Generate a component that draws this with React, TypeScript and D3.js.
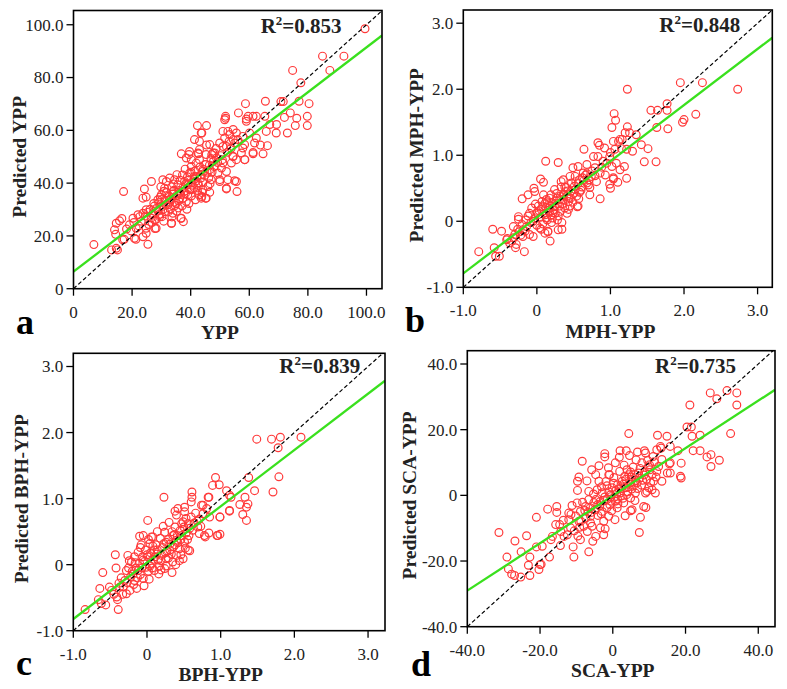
import React from 'react';
import * as d3 from 'd3';

type Pt = [number, number];

const yppPoints: Pt[] = [
  [6.95, 16.7], [99.5, 98.5], [85, 88.1], [92.3, 88.1], [87.5, 82.7], [74.8, 82.7], [77.6, 78], [65.5, 71],
  [58.7, 70.1], [71.6, 70.9], [70.8, 70.9], [77, 71], [80.4, 70.1], [79.8, 65.3], [79.8, 61.8], [75.7, 61.8],
  [76.2, 64.6], [74, 66.6], [72, 64.9], [73, 59], [69.2, 59], [66.2, 54.2], [64.7, 51.1], [61.3, 51.1],
  [58.5, 48.9], [56.3, 66.6], [51.9, 65.3], [51.9, 64.6], [42.3, 61.8], [45.4, 61.8], [43.8, 59], [36.8, 51.1],
  [42.7, 51.1], [45.4, 54.4], [55.6, 40.6], [55.8, 36.8], [52.2, 37.8], [52.7, 41.3], [49.9, 40.6], [17.1, 36.8],
  [26.6, 40.6], [24.2, 37.8], [23.7, 34.3], [33.5, 24.8], [36.6, 26.7], [37.5, 25.4], [15.7, 25.7], [16.5, 26.6],
  [14.6, 24.8], [14.4, 20.6], [17.3, 18.7], [13, 14.7], [15, 14.7], [21.3, 18.7], [25.4, 16.8], [24.8, 21],
  [27.8, 22.8], [20.6, 25.1], [22.6, 27.3], [46.5, 36.5], [45.1, 34.3], [43.8, 34.9], [63.8, 54.4], [62.4, 57.1],
  [69.3, 62.2], [67, 62.2], [61.3, 65.3], [59, 64.3], [54.5, 60.3], [54.5, 56.5], [48.2, 51.4], [47.2, 50.8],
  [40.2, 48.9], [39.4, 50.8], [54.5, 50.1], [51, 53.9],
  [24.8, 34.7], [14, 22.3], [20.3, 26.7], [22, 28], [23.7, 28.6], [24.8, 29.9], [19.1, 24.2], [21.4, 22.9],
  [24.8, 22.9], [23.7, 19.7], [20.8, 19.1], [16.8, 18.5], [14.6, 15.3], [28.2, 22.9], [27.7, 26.1], [29.4, 27.3],
  [30.5, 29.9], [32.2, 31.8], [33.4, 24.8], [33.9, 28.6], [36.8, 26.7], [28.8, 33.7], [30, 35.6], [31.1, 38.1],
  [31.7, 40.6], [30.5, 41.3], [32.8, 41.9], [34.5, 41.3], [35.6, 39.4], [33.9, 36.8], [36.2, 36.2], [37.3, 34.3],
  [39, 35.6], [32.8, 33.7], [35.1, 32.4], [38.5, 33], [40.2, 37.5], [37.9, 40.6], [39.6, 43.8], [41.3, 42.5],
  [42.5, 40], [44.2, 37.5], [45.3, 34.3], [43.6, 34.3], [45.9, 38.7], [47, 41.3], [49.9, 41.3], [52.2, 38.1],
  [55, 40.9], [49.3, 43.8], [46.5, 45.1], [44.8, 47], [43, 48.9], [41.9, 47.6], [40.2, 46.3], [38.5, 49.5],
  [39.6, 52], [42.5, 51.4], [43, 52.7], [45.3, 50.8], [47.6, 51.4], [48.8, 49.5], [51, 47.6], [50.5, 45.7],
  [52.2, 44.4], [53.9, 47.6], [55.6, 48.9], [54.4, 50.1], [57.3, 51.4], [58.4, 48.9], [61.3, 51.6], [57.8, 53.3],
  [55, 55.2], [52.2, 53.9], [49.9, 55.2], [46.5, 54.6], [43, 55.8], [51.6, 57.1], [53.3, 58.4], [52.7, 59.6],
  [51, 59.6], [55.6, 59], [56.1, 56.5], [57.8, 57.7], [60.1, 59], [59, 63.4], [59.6, 65.3], [62.4, 65.3],
  [65.3, 65.3], [65.8, 59.6], [61.8, 55.2], [58.4, 54.6], [51.6, 64], [43.6, 59], [41.3, 56.5],
  [28.3, 30.4], [29.1, 32.6], [30.4, 31.2], [31.2, 33.5], [32.5, 35.1], [33.2, 34.0], [34.4, 32.8], [35.3, 35.4],
  [36.1, 37.2], [37.4, 38.3], [38.2, 36.1], [39.1, 39.4], [40.3, 40.2], [41.2, 41.5], [42.1, 42.4], [43.3, 43.1],
  [44.2, 44.5], [41.1, 38.3], [39.3, 41.2], [36.2, 34.1], [34.3, 37.3], [31.1, 29.2], [29.2, 28.1], [27.1, 28.4],
  [26.2, 30.1], [28.1, 26.2], [30.2, 27.3], [33.1, 30.2], [35.2, 29.3], [37.1, 31.4], [40.2, 35.1], [42.3, 37.2],
  [44.1, 40.3], [46.2, 42.1], [47.3, 44.2], [48.1, 46.3], [45.2, 47.1], [44.3, 45.2], [38.1, 45.3], [37.2, 43.1],
  [35.3, 43.2], [40.1, 44.1], [33.5, 38.6], [31.8, 36.4], [29.6, 34.7], [27.4, 32.3], [26.5, 26.8], [24.6, 27.5],
  [25.7, 24.3], [30.8, 25.6], [38.7, 30.1], [41.6, 33.7], [43.9, 36.4], [46.6, 39.8], [49.2, 47.8], [50.3, 50.4],
  [52.6, 51.7], [53.8, 53.2], [48.7, 53.1], [46.9, 49.3],
  [27.6, 31.3], [28.9, 29.4], [30.1, 33.8], [31.5, 31.9], [32.3, 29.1], [32.9, 32.7], [33.8, 35.9], [34.7, 31.5],
  [35.9, 33.3], [36.6, 35.7], [37.8, 36.9], [38.4, 39.9], [39.7, 37.6], [40.6, 39.2], [41.8, 40.8], [42.7, 39.1],
  [43.5, 41.9], [44.8, 42.9], [45.6, 44.1], [46.4, 46.8], [30.9, 36.9], [29.8, 38.6], [34.1, 39.7], [36.4, 41.1],
  [38.9, 42.4], [41.4, 44.6], [43.2, 46.1], [33.6, 27.2], [35.8, 30.6], [39.4, 32.3], [42.8, 35.6], [26.8, 25.1],
  [25.3, 28.9], [23.1, 25.6], [22.3, 23.8], [19.6, 21.9], [18.1, 22.6], [47.8, 48.3], [50.8, 48.9], [53.1, 55.8],
];

const mphPoints: Pt[] = [
  [-0.79, -0.46], [-0.6, -0.12], [-0.48, -0.15], [-0.58, -0.4], [-0.56, -0.53], [-0.51, -0.53], [-0.4, -0.26],
  [-0.29, -0.4], [-0.17, -0.46], [-0.2, 0.34], [-0.25, 0.07], [-0.25, 0.03], [-0.04, 0.5], [0.05, 0.64],
  [0.09, 0.59], [0.12, 0.91], [0.29, 0.89], [0.15, -0.16], [0.34, -0.12], [0.55, 0.22], [0.64, 1.09],
  [0.86, 0.34], [0.85, 1.15], [0.77, 0.98], [0.99, 0.56], [1.0, 0.5], [1.04, 0.64], [1.1, 0.59], [1.05, 1.63],
  [1.07, 1.53], [1.02, 1.42], [1.23, 2.0], [1.23, 1.43], [1.22, 0.65], [1.19, 0.83], [1.3, 1.06], [1.46, 0.9],
  [1.62, 0.9], [1.51, 1.1], [1.42, 1.16], [1.55, 1.68], [1.63, 1.42], [1.64, 1.68], [1.77, 1.78], [1.78, 1.4],
  [1.77, 1.68], [1.95, 2.1], [2.25, 2.1], [2.16, 1.62], [1.98, 1.5], [2.0, 1.54], [2.73, 2.0], [1.26, 1.34],
  [1.35, 1.31], [1.16, 1.24], [1.11, 1.21],
  [-0.41, -0.28], [-0.32, -0.25], [-0.28, -0.35], [-0.14, -0.08], [-0.19, -0.13], [-0.1, -0.2], [-0.05, 0],
  [0, 0.13], [0.02, 0.23], [-0.07, 0.2], [0.06, 0.18], [-0.03, 0.45], [-0.12, 0.4], [0.09, 0.4], [0.13, 0.33],
  [0.18, 0.23], [0.22, 0.13], [0.13, 0.05], [0.2, -0.02], [0.04, -0.1], [0.11, -0.18], [0.29, -0.13],
  [0.34, -0.02], [0.15, -0.15], [0.29, 0.08], [0.31, 0.23], [0.27, 0.35], [0.24, 0.48], [0.36, 0.4], [0.43, 0.3],
  [0.4, 0.51], [0.47, 0.58], [0.52, 0.48], [0.54, 0.38], [0.56, 0.23], [0.45, 0.23], [0.38, 0.2], [0.58, 0.63],
  [0.63, 0.73], [0.56, 0.83], [0.45, 0.68], [0.36, 0.63], [0.68, 0.58], [0.72, 0.51], [0.74, 0.68], [0.79, 0.81],
  [0.86, 0.73], [0.72, 0.4], [0.83, 0.98], [0.9, 0.91], [0.92, 1.11], [0.99, 0.98], [1.06, 1.09], [1.04, 1.21],
  [1.13, 1.24], [1.02, 0.83], [1.08, 0.88], [1.13, 0.78], [1.04, 0.66], [0.83, 1.19], [1.2, 1.34], [1.22, 1.09],
  [0.68, 0.86], [0.49, 0.81], [-0.32, -0.08], [-0.19, -0.23], [-0.37, -0.33], [-0.05, -0.23], [0.18, -0.3],
  [0.05, 0.06], [0.1, 0.12], [0.16, 0.2], [0.21, 0.28], [0.26, 0.31], [0.31, 0.33], [0.35, 0.27], [0.41, 0.38],
  [0.46, 0.45], [0.51, 0.53], [0.56, 0.57], [0.61, 0.52], [0.66, 0.7], [0.71, 0.63], [0.11, 0.27], [0.17, 0.35],
  [0.23, 0.17], [0.32, 0.15], [0.39, 0.45], [0.44, 0.36], [0.49, 0.29], [0.27, 0.42], [0.02, 0.1], [-0.08, -0.02],
  [-0.12, 0.08], [-0.16, -0.15], [-0.22, -0.21], [-0.26, -0.12], [0.08, -0.04], [0.14, 0.02], [0.19, 0.09],
  [0.58, 0.44], [0.64, 0.62], [0.79, 0.69], [0.52, 0.68], [0.33, 0.52], [0.07, 0.3], [-0.02, 0.26], [0.28, 0.02],
  [0.41, 0.12],
  [-0.03, 0.04], [0.03, 0.16], [0.08, 0.22], [0.12, 0.1], [0.17, 0.14], [0.21, 0.05], [0.24, 0.22], [0.28, 0.27],
  [0.32, 0.38], [0.36, 0.33], [0.38, 0.52], [0.42, 0.46], [0.46, 0.35], [0.5, 0.42], [0.53, 0.6], [0.6, 0.47],
  [0.62, 0.66], [0.68, 0.72], [0.7, 0.55], [0.75, 0.76], [-0.1, 0.12], [-0.15, 0.02], [-0.2, -0.05], [-0.24, -0.16],
  [-0.3, -0.2], [-0.34, -0.3], [0.0, -0.06], [0.06, -0.12], [0.25, 0.12], [0.14, 0.28], [0.19, 0.4], [0.33, 0.6],
  [0.43, 0.18], [0.57, 0.34], [0.81, 0.6], [0.88, 0.82], [0.95, 0.88], [1.0, 1.04], [0.93, 0.7], [1.15, 1.1],
];

const bphPoints: Pt[] = [
  [-0.84, -0.68], [-0.64, -0.36], [-0.6, -0.12], [-0.66, -0.53], [-0.62, -0.59], [-0.56, -0.61], [-0.43, 0.15],
  [-0.42, -0.05], [-0.39, -0.68], [-0.4, -0.53], [-0.51, -0.34], [-0.1, 0.43], [-0.05, 0.44], [0.01, 0.67],
  [0.06, 0.42], [0.23, 1.02], [0.34, -0.12], [0.61, 1.02], [0.58, 0.21], [0.61, 1.1], [0.51, 0.87], [0.38, 0.81],
  [0.84, 1.02], [0.74, 0.9], [0.93, 1.32], [0.98, 1.21], [1.08, 1.12], [1.14, 1.02], [1.12, 0.81], [0.95, 0.44],
  [0.99, 0.46], [0.84, 0.48], [0.79, 0.42], [0.99, 0.72], [1.26, 0.91], [1.33, 1.02], [1.37, 0.92], [1.35, 0.87],
  [1.35, 0.67], [1.46, 1.12], [1.38, 1.32], [1.49, 1.9], [1.71, 1.1], [1.69, 1.9], [1.81, 1.93], [1.78, 1.77],
  [1.79, 1.33], [2.09, 1.93], [1.3, 0.76],
  [-0.48, -0.39], [-0.41, -0.49], [-0.37, -0.34], [-0.3, -0.24], [-0.28, -0.09], [-0.26, 0.14], [-0.21, 0.04],
  [-0.23, -0.39], [-0.14, -0.36], [-0.17, -0.24], [-0.19, -0.14], [-0.12, -0.09], [-0.05, -0.21], [-0.1, 0.02],
  [-0.12, 0.19], [-0.05, 0.07], [0.01, 0.12], [0.06, 0.02], [-0.01, -0.04], [0.1, -0.09], [0.15, 0.07],
  [0.2, 0.14], [0.1, 0.22], [0.04, 0.32], [0.08, 0.42], [0.24, 0.49], [0.26, 0.34], [0.31, 0.22], [0.24, -0.06],
  [0.26, 0.09], [0.35, 0.04], [0.4, 0.14], [0.44, 0.24], [0.4, 0.37], [0.35, 0.44], [0.47, 0.44], [0.51, 0.34],
  [0.56, 0.22], [0.49, 0.09], [0.38, 0.57], [0.4, 0.75], [0.42, 0.85], [0.51, 0.8], [0.49, 0.65], [0.56, 0.62],
  [0.6, 0.72], [0.6, 0.95], [0.69, 0.57], [0.71, 0.47], [0.76, 0.77], [0.81, 0.85], [0.83, 1.02], [0.85, 0.72],
  [0.78, 0.44], [0.96, 0.44], [0.99, 0.72], [0.89, 1.2], [1.12, 0.82], [1.12, 1.05],
  [-0.22, -0.18], [-0.18, -0.3], [-0.15, -0.05], [-0.09, -0.15], [-0.06, 0.12], [0.02, -0.1], [0.05, 0.18],
  [0.09, 0.08], [0.13, 0.16], [0.17, -0.02], [0.21, 0.26], [0.27, 0.2], [0.31, 0.31], [0.36, 0.27], [0.42, 0.33],
  [0.45, 0.52], [0.53, 0.48], [0.58, 0.55], [0.64, 0.63], [0.66, 0.78], [0.71, 0.69], [0.18, 0.4], [0.12, 0.3],
  [-0.02, 0.22], [-0.08, 0.3], [-0.25, -0.05], [-0.32, -0.33], [-0.28, -0.44], [-0.35, -0.2], [0.03, -0.22],
  [0.16, -0.14], [0.29, 0.1], [0.44, 0.06], [0.37, 0.45], [0.55, 0.38], [0.47, 0.62], [0.22, 0.58], [-0.17, 0.12],
  [-0.04, -0.32], [0.07, -0.05],
  [-0.2, -0.1], [-0.16, 0.03], [-0.13, -0.2], [-0.07, -0.05], [-0.03, 0.05], [0.0, 0.15], [0.04, -0.02],
  [0.08, 0.28], [0.11, 0.12], [0.14, 0.22], [0.19, 0.06], [0.23, 0.32], [0.25, 0.18], [0.29, 0.38], [0.33, 0.16],
  [0.34, 0.5], [0.38, 0.3], [0.41, 0.44], [0.46, 0.38], [0.5, 0.57], [0.53, 0.7], [0.57, 0.44], [0.62, 0.52],
  [0.68, 0.66], [0.73, 0.58], [0.76, 0.9], [-0.27, -0.27], [-0.33, -0.45], [-0.38, -0.28], [-0.45, -0.45],
  [-0.24, 0.06], [-0.09, 0.26], [0.02, 0.38], [0.14, 0.5], [0.3, 0.64], [0.19, -0.08], [0.26, -0.02], [0.39, 0.0],
  [0.46, 0.15], [0.52, 0.25],
];

const scaPoints: Pt[] = [
  [-31.3, -11.3], [-29.1, -18.8], [-28.7, -22.4], [-27.8, -24], [-27, -24.4], [-26.9, -13.9], [-25.3, -24.9],
  [-25.2, -17.2], [-23.7, -12.3], [-23.2, -21.3], [-22.8, -24.4], [-22.8, -18.8], [-21, -6.7], [-20.3, -22.6],
  [-19.7, -21], [-19.4, -15.5], [-21, -15.7], [-17.9, -4.2], [-17.4, -18.8], [-17, -13.5], [-15.4, -3.4],
  [-15.4, -5.2], [-14.6, -8.9], [-14.4, -15.3], [-12.1, -5.4], [-10.9, -15.7], [-10.7, -18.8], [-8.4, 10.4],
  [-9.3, 5.6], [-9.7, 4.3], [-9.7, 1.5], [-8.9, -13.5], [-6.6, -17.2], [-5.5, -14], [-3.8, 9.0], [-2.2, 12.7],
  [-2.2, 11.7], [-2.5, -12], [-0.9, 6.3], [2, 13.6], [3.7, 13.6], [4.4, 18.8], [4.9, -4.7], [7.3, -11.3],
  [7.6, -6.7], [8.7, 13.6], [9.4, 1.2], [9.1, -3.7], [11.7, 0.7], [12.3, 18.3], [14.9, 18], [13.3, 14.4],
  [15, 6.8], [15.6, 9.6], [17.9, 13.6], [18.8, 9.8], [18.8, 5.3], [20.4, 20.8], [21.2, 27.5], [21.6, 20.8],
  [21.8, 18], [22.1, 13.6], [24, 18.3], [24, 13.6], [25.9, 11.7], [26.8, 31.2], [27, 12.4], [27, 8.8],
  [28.6, 29.4], [29.3, 10.7], [31.4, 31.9], [32.4, 18.8], [34.1, 31.2], [34.1, 27.5],
  [-20, -21.1], [-16.6, -12.5], [-14.3, -11], [-13.4, -12.5], [-15.7, -8.9], [-12.1, -7.4], [-11.6, -9.9],
  [-12.5, -12], [-9.8, -2.3], [-8.9, -4.9], [-9.3, -7.9], [-7.5, -3.4], [-8, -9.4], [-7, -11], [-6.1, -6.4],
  [-5.7, -9.4], [-4.7, -12.5], [-6.6, 1.2], [-6.6, -1.3], [-4.7, -1.3], [-4.3, 1.7], [-3.8, 4.3], [-4.7, 6.3],
  [-2.9, -4.9], [-2.5, -7.9], [-3.4, -9.9], [-1.6, -3.8], [-1.1, -6.4], [-0.6, 0.2], [-0.2, 2.3], [-1.1, 6.3],
  [0.7, -1.8], [1.2, -3.8], [2.1, 0.7], [2.6, 4.3], [0.7, 9.9], [3.9, 7.8], [4.4, 6.3], [4.9, 3.8], [3.5, 2.3],
  [3, -2.3], [4.9, -0.8], [6.2, 0.7], [6.7, 3.8], [7.1, 6.8], [5.3, -4.4], [8.5, -3.4], [9, 0.7], [9.9, 2.3],
  [10.8, 1.7], [11.2, 4.3], [10.8, 6.3], [12.1, 7.3], [8, 9.9], [9, 12.9], [12.1, 13.9], [13.1, 14.9],
  [13.5, 10.9], [13.5, 4.3], [15.8, 9.9], [15.8, 6.8], [15.8, 14.9], [18.6, 5.8],
  [-1.5, -1.2], [0.8, 1.4], [2.4, 2.6], [3.6, 4.9], [5.1, 5.6], [6.3, 4.5], [7.5, 8.2], [8.8, 7.1], [10.1, 9.3],
  [11.4, 10.2], [1.3, 3.2], [-0.8, -2.9], [-2.4, -1.6], [-3.6, -3.2], [-4.9, -4.4], [-6.2, -3.8], [-7.4, -6.9],
  [-8.3, -2.1], [-5.3, 0.4], [-3.1, 2.6], [-1.9, 4.2], [0.3, 5.4], [1.9, 7.3], [3.1, 9.2], [5.6, 8.6],
  [6.4, 10.8], [4.1, 1.1], [2.8, -0.9], [1.4, -2.6], [-0.3, -4.7], [6.1, -1.6], [7.9, 3.1], [10.4, 3.8],
  [12.6, 8.8], [-10.6, -10.8], [-9.6, -12.4], [-11.2, -3.1], [-13.6, -7.6], [-4.1, -6.1], [-2.1, -10.2],
  [0.6, -7.4], [3.4, -6.2], [1.8, 11.6], [4.6, 12.1], [6.8, 13.2], [9.6, 10.6], [11.1, 11.8], [-7.1, 4.4],
  [-5.8, 7.8], [-1.2, 8.4],
  [-0.5, -0.4], [0.4, -0.6], [1.1, 0.6], [1.7, 1.9], [2.3, -0.2], [2.9, 3.4], [3.8, 0.2], [4.3, 2.6], [5.2, 1.9],
  [5.8, 3.1], [6.8, 2.1], [7.3, 5.2], [8.2, 4.6], [8.6, 6.2], [9.3, 4.9], [10.2, 7.8], [-1.1, 1.1], [-2.2, -0.5],
  [-2.9, 0.8], [-3.5, -1.9], [-4.1, -2.8], [-5.2, -2.2], [-5.9, -5.2], [-6.8, -5.1], [-7.7, -4.6], [-8.8, -7.9],
  [-10.2, -6.3], [-11.5, -5.8], [-1.6, 2.9], [0.2, 3.7], [-0.4, -1.8], [1.3, -1.1], [3.3, 5.8], [4.9, 7.1],
  [6, 6.3], [9.8, 8.7], [11.9, 5.6], [-3.2, -5.6], [-6.1, -8.4], [-9.1, -9.7],
];

const panelLetters = ['a', 'b', 'c', 'd'];
const xTitles = ['YPP', 'MPH-YPP', 'BPH-YPP', 'SCA-YPP'];
const yTitles = ['Predicted YPP', 'Predicted MPH-YPP', 'Predicted BPH-YPP', 'Predicted SCA-YPP'];
const r2Values = ['0.853', '0.848', '0.839', '0.735'];
const fitIntercepts = [6.45, 0.06, 0.03, -0.1];
const fitSlopes = [0.85, 0.85, 0.853, 0.723];
const yppTicks = [0, 20, 40, 60, 80, 100];
const diffTicks = [-1, 0, 1, 2, 3];
const scaTicks = [-40, -20, 0, 20, 40];

const pointSets = [yppPoints, mphPoints, bphPoints, scaPoints];
const tickSets = [yppTicks, diffTicks, diffTicks, scaTicks];

// frame boxes and axis extents per panel
const layout = [
  { left: 73.5, right: 382, top: 10.5, bottom: 288.7, xDom: [0, 105.3], yDom: [0, 105.4], r2x: 260.7, r2y: 33.3, letterX: 16, letterY: 334, yTitleX: 26 },
  { left: 463.3, right: 772.3, top: 10, bottom: 287.3, xDom: [-1, 3.2], yDom: [-1, 3.2], r2x: 659.3, r2y: 31.7, letterX: 405, letterY: 332, yTitleX: 423 },
  { left: 73.3, right: 385, top: 353.3, bottom: 630.7, xDom: [-1, 3.23], yDom: [-1, 3.2], r2x: 279.3, r2y: 372.7, letterX: 16, letterY: 675, yTitleX: 28 },
  { left: 467.3, right: 775, top: 350.7, bottom: 626.7, xDom: [-40, 44.6], yDom: [-40, 44.05], r2x: 655, r2y: 372.7, letterX: 411, letterY: 676, yTitleX: 416 },
];

const serif = '"Liberation Serif", "Times New Roman", serif';
const fmt = (v: number) => (v === 0 ? '0' : v.toFixed(1));

const Panel = ({ i }: { i: number }) => {
  const L = layout[i];
  const x = d3.scaleLinear().domain(L.xDom).range([L.left, L.right]);
  const y = d3.scaleLinear().domain(L.yDom).range([L.bottom, L.top]);
  const ticks = tickSets[i];
  const a = fitIntercepts[i];
  const b = fitSlopes[i];

  const line = d3
    .line<number>()
    .x((v) => x(v))
    .y((v) => y(a + b * v));

  const d0 = Math.max(L.xDom[0], L.yDom[0]);
  const d1 = Math.min(L.xDom[1], L.yDom[1]);
  const xMid = (x(ticks[0]) + x(ticks[ticks.length - 1])) / 2;
  const yMid = (y(ticks[0]) + y(ticks[ticks.length - 1])) / 2;
  const clipId = 'clip' + i;

  return (
    <g>
      <defs>
        <clipPath id={clipId}>
          <rect x={L.left} y={L.top} width={L.right - L.left} height={L.bottom - L.top} />
        </clipPath>
      </defs>
      <g clipPath={`url(#${clipId})`}>
        {pointSets[i].map((p, k) => (
          <circle key={k} cx={x(p[0])} cy={y(p[1])} r={3.9} fill="none" stroke="#ff3a3a" strokeWidth={1.2} />
        ))}
        <path d={line(L.xDom) || ''} fill="none" stroke="#3ae01e" strokeWidth={2.3} />
        <line x1={x(d0)} y1={y(d0)} x2={x(d1)} y2={y(d1)} stroke="#000" strokeWidth={1.2} strokeDasharray="4,2.5" />
      </g>
      <rect x={L.left} y={L.top} width={L.right - L.left} height={L.bottom - L.top} fill="none" stroke="#000" strokeWidth={1.6} />
      {ticks.map((t) => (
        <g key={'x' + t}>
          <line x1={x(t)} x2={x(t)} y1={L.bottom} y2={L.bottom + 7} stroke="#000" strokeWidth={1.3} />
          <text x={x(t)} y={L.bottom + 29} textAnchor="middle" fontFamily={serif} fontSize={17} fill="#222">
            {fmt(t)}
          </text>
        </g>
      ))}
      {ticks.map((t) => (
        <g key={'y' + t}>
          <line x1={L.left - 7} x2={L.left} y1={y(t)} y2={y(t)} stroke="#000" strokeWidth={1.3} />
          <text x={L.left - 10} y={y(t)} dy="0.35em" textAnchor="end" fontFamily={serif} fontSize={17} fill="#222">
            {fmt(t)}
          </text>
        </g>
      ))}
      <text x={xMid} y={L.bottom + 50.5} textAnchor="middle" fontFamily={serif} fontSize={19.5} fontWeight="bold" fill="#222">
        {xTitles[i]}
      </text>
      <text
        transform={`translate(${L.yTitleX},${yMid}) rotate(-90)`}
        textAnchor="middle"
        fontFamily={serif}
        fontSize={19.5}
        fontWeight="bold"
        fill="#222"
      >
        {yTitles[i]}
      </text>
      <text x={L.r2x} y={L.r2y} fontFamily={serif} fontSize={21} fontWeight="bold" fill="#222">
        <tspan>R</tspan>
        <tspan fontSize={13} dy={-8}>2</tspan>
        <tspan dy={8}>={r2Values[i]}</tspan>
      </text>
      <text x={L.letterX} y={L.letterY} fontFamily={serif} fontSize={36} fontWeight="bold" fill="#000">
        {panelLetters[i]}
      </text>
    </g>
  );
};

export default function App() {
  return (
    <svg
      width={787}
      height={689}
      style={{ position: 'absolute', left: 0, top: 0, background: '#fff' }}
    >
      {layout.map((_, i) => (
        <Panel key={i} i={i} />
      ))}
    </svg>
  );
}
